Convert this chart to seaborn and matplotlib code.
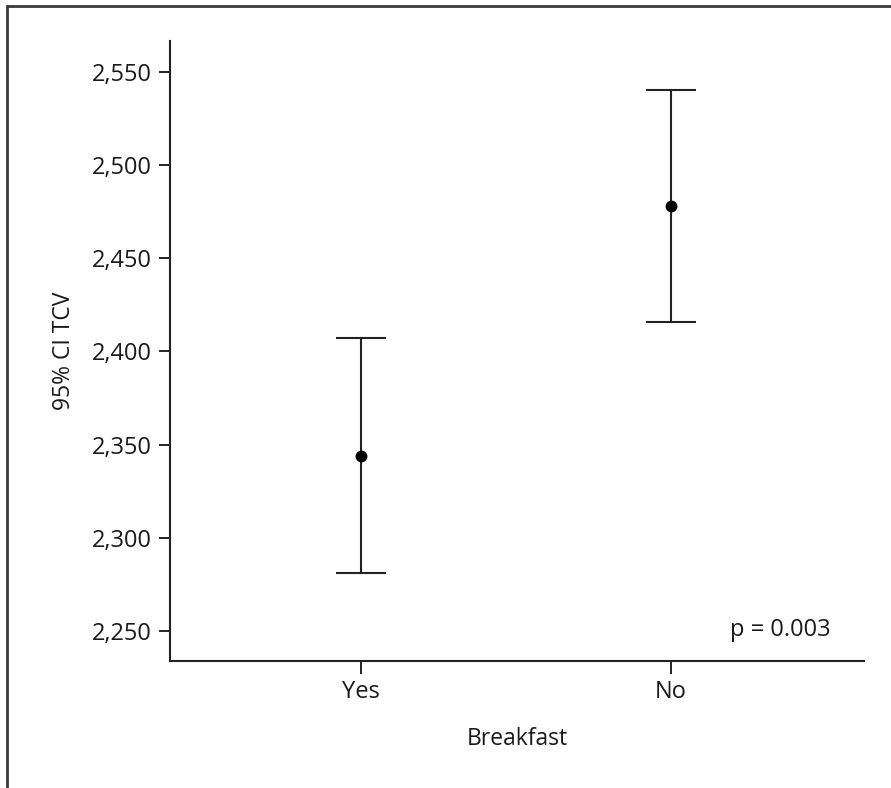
import numpy as np
import pandas as pd
import seaborn as sns
import matplotlib.pyplot as plt
import matplotlib.ticker as ticker
from matplotlib.lines import Line2D

# ---------------------------
# DATA
# ---------------------------
groups = ["Yes", "No"]
means = [2344.1, 2478.3]
ci_low = [2281.3, 2415.7]
ci_high = [2407.1, 2540.4]
yticks = [2250, 2300, 2350, 2400, 2450, 2500, 2550]
p_label = "p = 0.003"

df = pd.DataFrame({"Breakfast": groups, "TCV": means})

# ---------------------------
# PLOT
# ---------------------------
sns.set_style("ticks")
plt.rcParams["font.family"] = ["Open Sans", "DejaVu Sans"]
plt.rcParams["text.color"] = "#1a1a1a"
plt.rcParams["axes.labelcolor"] = "#1a1a1a"
plt.rcParams["xtick.labelcolor"] = "#1a1a1a"
plt.rcParams["ytick.labelcolor"] = "#1a1a1a"

fig = plt.figure(figsize=(8.91, 7.88), dpi=100)
ax = fig.add_axes([0.1911, 0.1612, 0.7786, 0.7868])

sns.pointplot(
    data=df,
    x="Breakfast",
    y="TCV",
    order=groups,
    color="black",
    linestyle="none",
    errorbar=None,
    markersize=6.5,
    ax=ax,
)

xpos = np.arange(len(groups))
yerr = [np.array(means) - np.array(ci_low), np.array(ci_high) - np.array(means)]
ax.errorbar(
    xpos, means, yerr=yerr,
    fmt="none", ecolor="#222222", elinewidth=1.5,
    capsize=18, capthick=1.5, zorder=1,
)

ax.set_xlim(-0.615, 1.623)
ax.set_ylim(2233.9, 2566.6)
ax.set_yticks(yticks)
ax.yaxis.set_major_formatter(ticker.FuncFormatter(lambda v, pos: f"{v:,.0f}"))

ax.set_xlabel("Breakfast", fontsize=16.5, labelpad=16)
ax.set_ylabel("95% CI TCV", fontsize=16.5, labelpad=12)
ax.tick_params(axis="y", labelsize=17, length=8, width=1.4, color="#222222", pad=5)
ax.tick_params(axis="x", labelsize=17, length=9, width=1.4, color="#222222", pad=5)

for side in ["top", "right"]:
    ax.spines[side].set_visible(False)
for side in ["left", "bottom"]:
    ax.spines[side].set_linewidth(1.5)
    ax.spines[side].set_color("#222222")

ax.text(0.952, 0.05, p_label, transform=ax.transAxes,
        ha="right", va="center", fontsize=17)

# outer frame (top and left edges only, as cropped in the original)
fig.add_artist(Line2D([6.5 / 891, 1.0], [1 - 6 / 788, 1 - 6 / 788],
                      transform=fig.transFigure, color="#3a3a3a", lw=2))
fig.add_artist(Line2D([6.5 / 891, 6.5 / 891], [0.0, 1 - 6 / 788],
                      transform=fig.transFigure, color="#3a3a3a", lw=2))

fig.savefig("out.png", dpi=100)
